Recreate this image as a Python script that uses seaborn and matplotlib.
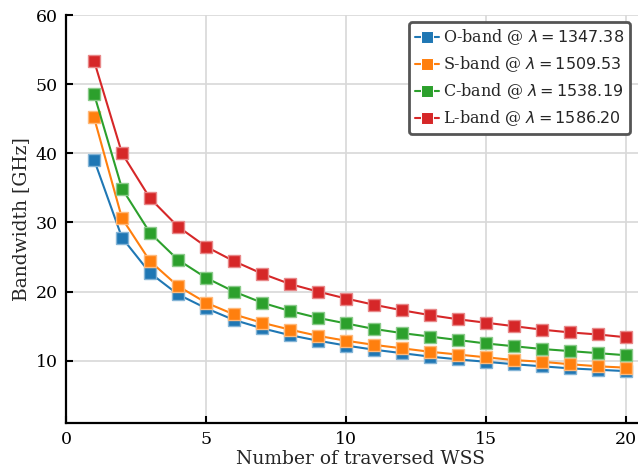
import matplotlib
matplotlib.use("Agg")
import matplotlib.pyplot as plt
import matplotlib.colors as mcolors
import numpy as np
import pandas as pd
import seaborn as sns

# Number of traversed WSS
hops = list(range(1, 21))

# Bandwidth [GHz] per band
o_band = [39.1, 27.8, 22.7, 19.6, 17.6, 15.9, 14.7, 13.7, 12.9, 12.2,
          11.6, 11.1, 10.6, 10.2, 9.85, 9.5, 9.2, 8.9, 8.7, 8.5]
s_band = [45.2, 30.6, 24.4, 20.8, 18.4, 16.7, 15.5, 14.5, 13.6, 12.9,
          12.3, 11.8, 11.3, 10.9, 10.5, 10.1, 9.85, 9.5, 9.2, 9.0]
c_band = [48.6, 34.9, 28.5, 24.6, 22.0, 20.0, 18.4, 17.2, 16.2, 15.4,
          14.6, 14.0, 13.5, 13.0, 12.5, 12.1, 11.7, 11.4, 11.1, 10.8]
l_band = [53.4, 40.0, 33.5, 29.4, 26.5, 24.4, 22.6, 21.1, 20.0, 19.0,
          18.1, 17.3, 16.6, 16.0, 15.5, 15.0, 14.5, 14.1, 13.8, 13.4]

band_labels = [
    r"O-band @ $\lambda = 1347.38$",
    r"S-band @ $\lambda = 1509.53$",
    r"C-band @ $\lambda = 1538.19$",
    r"L-band @ $\lambda = 1586.20$",
]
band_colors = ["#1f77b4", "#ff7f0e", "#2ca02c", "#d62728"]

frames = []
for lab, vals in zip(band_labels, [o_band, s_band, c_band, l_band]):
    frames.append(pd.DataFrame({"hops": hops, "bw": vals, "band": lab}))
df = pd.concat(frames, ignore_index=True)

sns.set_style("whitegrid")
plt.rcParams["font.family"] = ["DejaVu Serif"]
plt.rcParams["mathtext.fontset"] = "dejavusans"

fig = plt.figure(figsize=(6.38, 4.70), dpi=100)
ax = fig.add_axes([66 / 638, 1 - 423 / 470, 588 / 638, (423 - 15) / 470])

sns.lineplot(data=df, x="hops", y="bw", hue="band", palette=band_colors,
             marker="s", markersize=9, linewidth=1.5, ax=ax, legend=True)

# soften the marker edges a little
for line, col in zip(ax.get_lines(), band_colors):
    rgb = np.array(mcolors.to_rgb(col))
    line.set_markeredgecolor(tuple(0.55 * rgb + 0.45))
    line.set_markeredgewidth(1.0)

ax.set_xlim(0, 21)
ax.set_ylim(1, 60)
ax.set_xticks([0, 5, 10, 15, 20])
ax.set_yticks([10, 20, 30, 40, 50, 60])

ax.grid(True, color="#d8d8d8", linewidth=1.2)
for side in ["top", "right"]:
    ax.spines[side].set_visible(False)
for side in ["left", "bottom"]:
    ax.spines[side].set_visible(True)
    ax.spines[side].set_color("black")
    ax.spines[side].set_linewidth(1.6)

ax.tick_params(axis="both", direction="in", length=5, width=1.5,
               labelsize=12.5, colors="black", left=True, bottom=True, pad=6)

ax.set_xlabel("Number of traversed WSS", fontsize=13.5, labelpad=1)
ax.set_ylabel("Bandwidth [GHz]", fontsize=13.5, labelpad=4)

leg = ax.legend(loc="upper left", bbox_to_anchor=((409 - 66) / 588, (423 - 22) / 408),
                fontsize=11.5, frameon=True, fancybox=True, handlelength=1.5,
                borderpad=0.35, labelspacing=0.45, handletextpad=0.3,
                borderaxespad=0.0)
frame = leg.get_frame()
frame.set_edgecolor("#555555")
frame.set_linewidth(2.0)
frame.set_alpha(1.0)

fig.savefig("out.png", dpi=100)
